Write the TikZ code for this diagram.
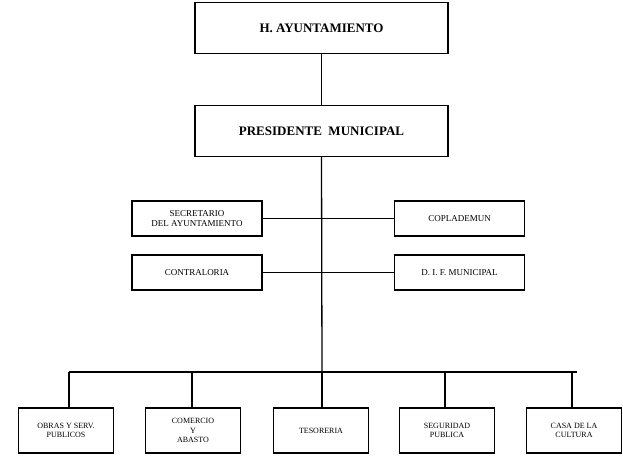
\documentclass[tikz,border=0pt]{standalone}
\usepackage{fontspec}
\setmainfont{Liberation Serif}
\begin{document}
\begin{tikzpicture}[x=1pt,y=-1pt,
  bx/.style={draw,line width=1.3pt,minimum width=#1,inner sep=0pt,align=center},
  big/.style={bx=253pt,minimum height=51pt,font=\fontsize{13}{15}\selectfont\bfseries},
  mid/.style={bx=130pt,minimum height=35pt,font=\fontsize{9}{10.5}\selectfont},
  low/.style={bx=95pt,minimum height=45pt,font=\fontsize{8}{9.5}\selectfont},
  ln/.style={line width=1.3pt}]
\useasboundingbox (0,0) rectangle (623,455);
\node[big] (ay) at (321.5,28) {H. AYUNTAMIENTO};
\node[big] (pm) at (321.5,131) {PRESIDENTE\ \ MUNICIPAL};
\node[mid] (sec) at (197,218.5) {SECRETARIO\\DEL AYUNTAMIENTO};
\node[mid] (cop) at (459.5,218.5) {COPLADEMUN};
\node[mid] (con) at (197,272.5) {CONTRALORIA};
\node[mid] (dif) at (459.5,272.5) {D. I. F. MUNICIPAL};
\node[low] (b1) at (66,430.5) {OBRAS Y SERV.\\PUBLICOS};
\node[low] (b2) at (193,430.5) {COMERCIO\\Y\\ABASTO};
\node[low] (b3) at (321,430.5) {TESORERIA};
\node[low] (b4) at (447,430.5) {SEGURIDAD\\PUBLICA};
\node[low] (b5) at (574,430.5) {CASA DE LA\\CULTURA};
\coordinate (bus) at (322,372);
\coordinate (busL) at (69,372);
\coordinate (busR) at (577,372);
\draw[ln] (ay) -- (pm);
\draw[ln] (pm.south) -- (bus);
\draw[ln] (sec.east) -- (cop.west);
\draw[ln] (con.east) -- (dif.west);
\draw[ln] (busL) -- (busR);
\foreach \b/\x in {b1/69,b2/192,b3/322,b4/445,b5/572}
  \draw[ln] (\x,372) -- (\b.north -| \x,0);
\end{tikzpicture}
\end{document}
